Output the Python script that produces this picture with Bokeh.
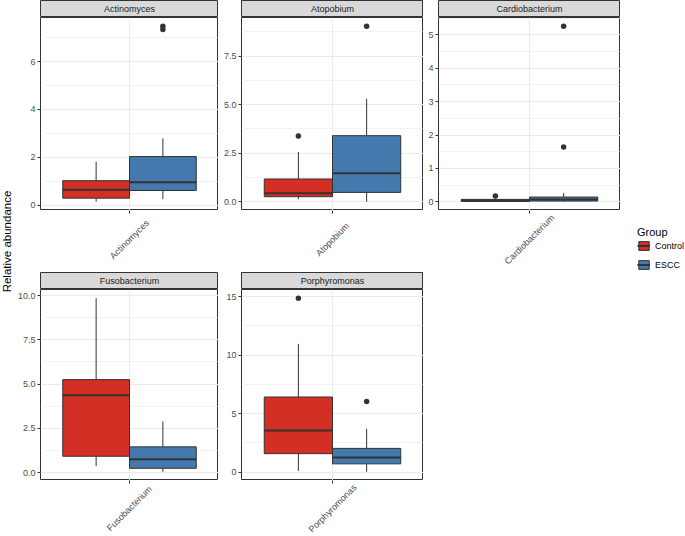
from math import pi
from bokeh.plotting import figure
from bokeh.layouts import row, column
from bokeh.models import (ColumnDataSource, Range1d, FixedTicker, Label,
                          Legend, LegendItem)
from bokeh.embed import file_html
from bokeh.resources import INLINE

# ---------------- data ----------------
genera = ["Actinomyces", "Atopobium", "Cardiobacterium", "Fusobacterium", "Porphyromonas"]
groups = ["Control", "ESCC"]
group_colors = ["#D42F25", "#4479AD"]

ctrl_lo = [0.14, 0.13, 0.00, 0.36, 0.11]
ctrl_q1 = [0.29, 0.26, 0.01, 0.92, 1.58]
ctrl_med = [0.64, 0.43, 0.04, 4.37, 3.56]
ctrl_q3 = [1.02, 1.17, 0.07, 5.25, 6.42]
ctrl_hi = [1.81, 2.56, 0.10, 9.85, 10.96]
ctrl_out = [[], [3.38], [0.17], [], [14.86]]

escc_lo = [0.25, 0.00, 0.00, 0.04, 0.03]
escc_q1 = [0.61, 0.48, 0.02, 0.24, 0.71]
escc_med = [0.95, 1.47, 0.07, 0.75, 1.25]
escc_q3 = [2.03, 3.40, 0.14, 1.45, 2.03]
escc_hi = [2.79, 5.29, 0.26, 2.89, 3.70]
escc_out = [[7.35, 7.48], [9.03], [1.64, 5.26], [], [6.04]]

y_ticks = [[0, 2, 4, 6], [0, 2.5, 5, 7.5], [0, 1, 2, 3, 4, 5],
           [0, 2.5, 5, 7.5, 10], [0, 5, 10, 15]]
y_tick_labels = [["0", "2", "4", "6"], ["0.0", "2.5", "5.0", "7.5"],
                 ["0", "1", "2", "3", "4", "5"],
                 ["0.0", "2.5", "5.0", "7.5", "10.0"], ["0", "5", "10", "15"]]

y_title = "Relative abundance"
legend_title = "Group"

# ---------------- styling ----------------
FONT = "Liberation Sans"
DARK = "#333333"
GRID = "#EBEBEB"
STRIP_H = 17
FRAME_H = [193, 191]
XLAB_H = [62, 56]
XLAB_OFF = [29, 28]       # label centre distance below the panel
BOX_W = 0.45
TOTAL_H = 2 * STRIP_H + sum(FRAME_H) + sum(XLAB_H)


def blank_fig(**kw):
    f = figure(toolbar_location=None, output_backend="svg",
               x_axis_location=None, y_axis_location=None,
               border_fill_color="white", **kw)
    f.grid.visible = False
    return f


def make_panel(i, left_border, frame_w, r):
    lows = [ctrl_lo[i], escc_lo[i]]
    q1s = [ctrl_q1[i], escc_q1[i]]
    meds = [ctrl_med[i], escc_med[i]]
    q3s = [ctrl_q3[i], escc_q3[i]]
    highs = [ctrl_hi[i], escc_hi[i]]
    outs = [ctrl_out[i], escc_out[i]]
    xs = [1 + (k - 0.5) * BOX_W for k in range(len(groups))]

    allv = lows + highs + [v for o in outs for v in o]
    vmin, vmax = min(allv), max(allv)
    pad = 0.05 * (vmax - vmin)
    ylo, yhi = vmin - pad, vmax + pad
    total_w = left_border + frame_w

    # strip (facet title)
    s = blank_fig(width=total_w, height=STRIP_H,
                  min_border_left=left_border, min_border_right=0,
                  min_border_top=0, min_border_bottom=0,
                  x_range=Range1d(0, 1), y_range=Range1d(0, 1),
                  background_fill_color="#D9D9D9",
                  outline_line_color=DARK, outline_line_width=1)
    s.add_layout(Label(x=0.5, y=0.5, text=genera[i], text_align="center",
                       text_baseline="middle", text_font=FONT,
                       text_font_size="9px", text_color="#1A1A1A"))

    p = figure(width=total_w, height=FRAME_H[r],
               min_border_left=left_border, min_border_right=0,
               min_border_top=0, min_border_bottom=0,
               x_range=Range1d(0.4, 1.6), y_range=Range1d(ylo, yhi),
               x_axis_location=None,
               toolbar_location=None, output_backend="svg",
               background_fill_color="white", border_fill_color="white",
               outline_line_color=DARK, outline_line_width=1)

    ticks = y_ticks[i]
    step = ticks[1] - ticks[0]
    minor = [t + step / 2 for t in [ticks[0] - step] + ticks
             if ylo <= t + step / 2 <= yhi]
    yt = FixedTicker(ticks=ticks, minor_ticks=minor)
    p.yaxis.ticker = yt
    p.ygrid.ticker = yt
    p.yaxis.major_label_overrides = {t: lab for t, lab in zip(ticks, y_tick_labels[i])}
    p.yaxis.major_label_text_font = FONT
    p.yaxis.major_label_text_font_size = "9px"
    p.yaxis.major_label_text_color = "#4D4D4D"
    p.yaxis.major_label_standoff = 1
    p.yaxis.axis_label_standoff = 0
    p.yaxis.axis_line_color = None
    p.yaxis.major_tick_line_color = DARK
    p.yaxis.major_tick_in = 0
    p.yaxis.major_tick_out = 3
    p.yaxis.minor_tick_line_color = None

    p.xgrid.ticker = FixedTicker(ticks=[1])
    p.grid.grid_line_color = GRID
    p.grid.grid_line_width = 1
    p.ygrid.minor_grid_line_color = GRID
    p.ygrid.minor_grid_line_width = 0.6

    src = ColumnDataSource(dict(
        x=xs, xl=[x - BOX_W / 2 for x in xs], xr=[x + BOX_W / 2 for x in xs],
        lo=lows, q1=q1s, med=meds, q3=q3s, hi=highs, color=group_colors))
    p.segment(x0="x", y0="q3", x1="x", y1="hi", source=src,
              line_color=DARK, line_width=1)
    p.segment(x0="x", y0="lo", x1="x", y1="q1", source=src,
              line_color=DARK, line_width=1)
    p.vbar(x="x", width=BOX_W, bottom="q1", top="q3", source=src,
           fill_color="color", line_color=DARK, line_width=1)
    p.segment(x0="xl", y0="med", x1="xr", y1="med", source=src,
              line_color=DARK, line_width=2)

    ox = [xs[k] for k in range(len(groups)) for _ in outs[k]]
    oy = [v for k in range(len(groups)) for v in outs[k]]
    if ox:
        p.scatter(x=ox, y=oy, marker="circle", size=5.5,
                  fill_color=DARK, line_color=None)

    # x tick + rotated category label under the panel
    xl = figure(width=total_w, height=XLAB_H[r],
                min_border_left=left_border, min_border_right=0,
                min_border_top=0, min_border_bottom=0,
                x_range=Range1d(0.4, 1.6), y_range=Range1d(0, 1),
                x_axis_location="above", y_axis_location=None,
                toolbar_location=None, output_backend="svg",
                border_fill_color="white", outline_line_color=None)
    xl.grid.visible = False
    xl.xaxis.ticker = FixedTicker(ticks=[1])
    xl.xaxis.major_label_text_font_size = "1px"
    xl.xaxis.major_label_text_color = None
    xl.xaxis.major_label_standoff = 0
    xl.xaxis.axis_label_standoff = 0
    xl.xaxis.axis_line_color = None
    xl.xaxis.major_tick_line_color = DARK
    xl.xaxis.major_tick_in = 3
    xl.xaxis.major_tick_out = 0
    xl.xaxis.minor_tick_line_color = None
    xl.add_layout(Label(x=1, y=XLAB_H[r] - XLAB_OFF[r],
                        x_units="data", y_units="screen",
                        text=genera[i], angle=pi / 4, text_align="center",
                        text_baseline="middle", text_font=FONT,
                        text_font_size="9px", text_color="#4D4D4D"))
    return column(s, p, xl)


# y-axis title
YL_W = 14
yl = blank_fig(width=YL_W, height=TOTAL_H, min_border=0,
               x_range=Range1d(0, 1), y_range=Range1d(0, 1),
               outline_line_color=None)
yl.add_layout(Label(x=6.5, y=TOTAL_H - 241, x_units="screen", y_units="screen",
                    text=y_title, angle=pi / 2, text_align="center",
                    text_baseline="middle", text_font=FONT,
                    text_font_size="11.5px", text_color="black"))

# legend
lf = blank_fig(width=64, height=TOTAL_H, min_border=0,
               x_range=Range1d(0, 1), y_range=Range1d(0, 1),
               outline_line_color=None)
items = []
for g, c in zip(groups, group_colors):
    es = ColumnDataSource(dict(x=[10], y=[10]))  # outside the visible range
    rb = lf.vbar(x="x", top="y", width=0.1, source=es, fill_color=c,
                 line_color=DARK, line_width=1)
    rm = lf.segment(x0="x", y0="y", x1="x", y1="y", source=es,
                    line_color=DARK, line_width=2)
    items.append(LegendItem(label=g, renderers=[rb, rm]))
leg = Legend(items=items, location=(17, TOTAL_H - 270), title=legend_title,
             title_text_font=FONT, title_text_font_size="11px",
             title_text_font_style="normal", title_text_color="black",
             title_standoff=2,
             label_text_font=FONT, label_text_font_size="9px",
             label_text_color="black", label_standoff=5,
             glyph_width=13, glyph_height=11, label_height=11, spacing=8,
             padding=0, margin=0, border_line_color=None,
             background_fill_alpha=0)
lf.add_layout(leg)

p1 = make_panel(0, 26, 178, 0)
p2 = make_panel(1, 23, 182, 0)
p3 = make_panel(2, 15, 182, 0)
p4 = make_panel(3, 26, 178, 1)
p5 = make_panel(4, 23, 182, 1)

layout = row(yl, column(row(p1, p2, p3), row(p4, p5)), lf)

open("out.html", "w").write(file_html(layout, INLINE))
